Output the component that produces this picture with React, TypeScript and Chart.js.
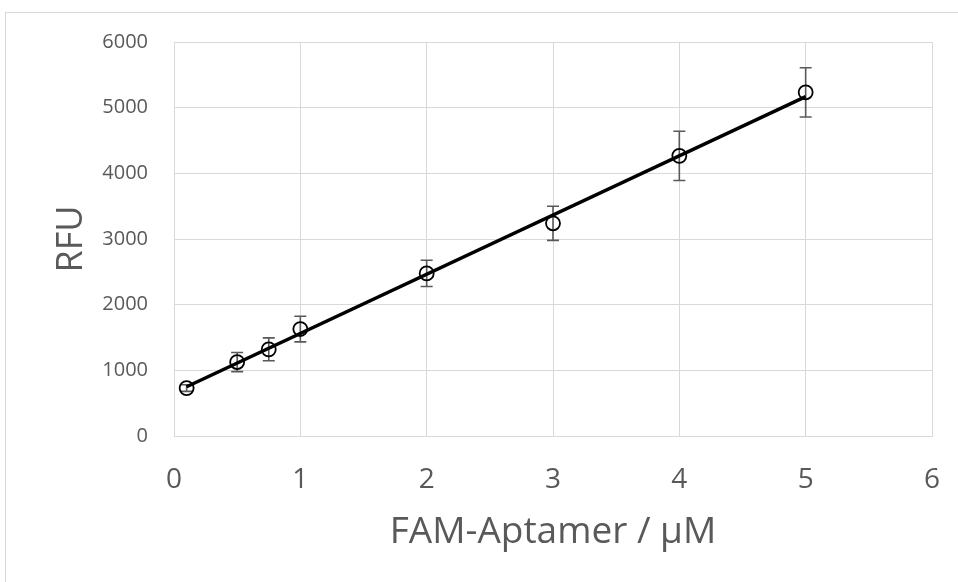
import React, { useEffect, useRef } from "react";
import { Chart, registerables } from "chart.js";

Chart.register(...registerables);

const concentrations = [0.1, 0.5, 0.75, 1, 2, 3, 4, 5];
const rfuValues = [730, 1126, 1320, 1629, 2476, 3239, 4266, 5234];
const rfuErrors = [50, 145, 175, 195, 200, 260, 375, 375];
const trendX = [0.1, 5];
const trendY = [750, 5168];
const xTicks = [0, 1, 2, 3, 4, 5, 6];
const yTicks = [0, 1000, 2000, 3000, 4000, 5000, 6000];

const FONT = "'Open Sans', 'Noto Sans', sans-serif";
const TEXT = "#595959";
const GRID = "#d9d9d9";

const errorBarPlugin = {
  id: "errorBars",
  beforeDatasetsDraw(chart: any) {
    const ctx = chart.ctx;
    const xs = chart.scales.x;
    const ys = chart.scales.y;
    ctx.save();
    ctx.strokeStyle = "#595959";
    ctx.lineWidth = 1.6;
    concentrations.forEach((c, i) => {
      const px = xs.getPixelForValue(c);
      const top = ys.getPixelForValue(rfuValues[i] + rfuErrors[i]);
      const bot = ys.getPixelForValue(rfuValues[i] - rfuErrors[i]);
      const cap = 6;
      ctx.beginPath();
      ctx.moveTo(px, top);
      ctx.lineTo(px, bot);
      ctx.moveTo(px - cap, top);
      ctx.lineTo(px + cap, top);
      ctx.moveTo(px - cap, bot);
      ctx.lineTo(px + cap, bot);
      ctx.stroke();
    });
    ctx.restore();
  },
};

export default function App() {
  const ref = useRef<HTMLCanvasElement | null>(null);

  useEffect(() => {
    if (!ref.current) return;
    const chart = new Chart(ref.current, {
      type: "scatter",
      data: {
        datasets: [
          {
            label: "trend",
            data: trendX.map((x, i) => ({ x, y: trendY[i] })),
            showLine: true,
            borderColor: "#000000",
            borderWidth: 3.5,
            pointRadius: 0,
            order: 0,
          },
          {
            label: "RFU",
            data: concentrations.map((x, i) => ({ x, y: rfuValues[i] })),
            pointStyle: "circle",
            pointRadius: 7,
            pointBorderWidth: 1.8,
            pointBorderColor: "#000000",
            pointBackgroundColor: "rgba(0,0,0,0)",
            showLine: false,
            order: 1,
          },
        ],
      },
      options: {
        animation: false,
        responsive: false,
        maintainAspectRatio: false,
        devicePixelRatio: 1,
        layout: { padding: { top: 42, right: 26, left: 0, bottom: 0 } },
        plugins: {
          legend: { display: false },
          tooltip: { enabled: false },
        },
        scales: {
          x: {
            type: "linear",
            min: 0,
            max: 6,
            afterBuildTicks: (s: any) => {
              s.ticks = xTicks.map((v) => ({ value: v }));
            },
            afterFit: (s: any) => {
              s.height = 146;
              s.paddingLeft = 0;
              s.paddingRight = 0;
            },
            grid: { color: GRID, lineWidth: 1, drawTicks: false },
            border: { color: GRID, width: 1 },
            ticks: {
              color: TEXT,
              font: { family: FONT, size: 28 },
              padding: 27,
            },
            title: {
              display: true,
              text: "FAM-Aptamer / µM",
              color: TEXT,
              font: { family: FONT, size: 37, weight: "normal" },
              padding: { top: 0, bottom: 27 },
            },
          },
          y: {
            type: "linear",
            min: 0,
            max: 6000,
            afterBuildTicks: (s: any) => {
              s.ticks = yTicks.map((v) => ({ value: v }));
            },
            afterFit: (s: any) => {
              s.width = 174;
              s.paddingTop = 0;
              s.paddingBottom = 0;
            },
            grid: { color: GRID, lineWidth: 1, drawTicks: false },
            border: { color: GRID, width: 1 },
            ticks: {
              color: TEXT,
              font: { family: FONT, size: 20 },
              padding: 26,
              callback: (v: any) => String(v),
            },
            title: {
              display: true,
              text: "RFU",
              color: TEXT,
              font: { family: FONT, size: 36, weight: "normal" },
              padding: { top: 50, bottom: 0 },
            },
          },
        },
      },
      plugins: [errorBarPlugin],
    });
    return () => chart.destroy();
  }, []);

  return (
    <div
      style={{
        position: "fixed",
        left: 0,
        top: 0,
        width: 958,
        height: 582,
        overflow: "hidden",
        background: "#ffffff",
      }}
    >
      <div
        style={{
          position: "absolute",
          left: 5,
          top: 12,
          width: 1000,
          height: 1000,
          border: "1px solid #d9d9d9",
        }}
      />
      <canvas
        ref={ref}
        width={958}
        height={582}
        style={{ position: "absolute", left: 0, top: 0, width: 958, height: 582 }}
      />
    </div>
  );
}
